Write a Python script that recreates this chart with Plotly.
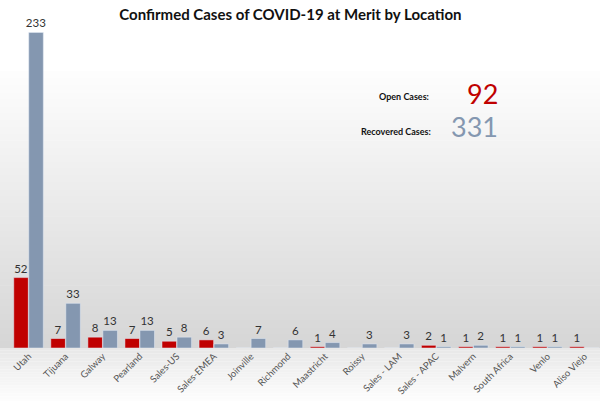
import plotly.graph_objects as go

locations = ["Utah", "Tijuana", "Galway", "Pearland", "Sales-US", "Sales-EMEA",
             "Joinville", "Richmond", "Maastricht", "Roissy", "Sales - LAM",
             "Sales - APAC", "Malvern", "South Africa", "Venlo", "Aliso Viejo"]
open_cases = [52, 7, 8, 7, 5, 6, 0, 0, 1, 0, 0, 2, 1, 1, 1, 1]
recovered_cases = [233, 33, 13, 13, 8, 3, 7, 6, 4, 3, 3, 1, 2, 1, 1, 0]

RED = "#C00000"
BLUE = "#8497B0"

def lbl(vals):
    return [str(v) if v > 0 else "" for v in vals]

fig = go.Figure()
fig.add_trace(go.Bar(x=locations, y=open_cases, name="Open", marker_color=RED,
                     text=lbl(open_cases), textposition="outside",
                     textfont=dict(size=11.5, color="#333333", family="Lato"),
                     constraintext="none", cliponaxis=False))
fig.add_trace(go.Bar(x=locations, y=recovered_cases, name="Recovered", marker_color=BLUE,
                     text=lbl(recovered_cases), textposition="outside",
                     textfont=dict(size=11.5, color="#333333", family="Lato"),
                     constraintext="none", cliponaxis=False))

# gradient background stripes
shapes = []
N = 40
top = 0.85
for i in range(N):
    y0 = top * i / N
    y1 = top * (i + 1) / N
    t = i / N
    g = int(214 + (255 - 214) * t)
    shapes.append(dict(type="rect", xref="paper", yref="paper", x0=-0.02, x1=1.02,
                       y0=y0, y1=y1 + 0.002, fillcolor=f"rgb({g},{g},{g})",
                       line=dict(width=0), layer="below"))
M = 20
bot = -0.165
for i in range(M):
    y0 = bot * i / M
    y1 = bot * (i + 1) / M
    t = i / M
    g = int(232 + (255 - 232) * t)
    shapes.append(dict(type="rect", xref="paper", yref="paper", x0=-0.02, x1=1.02,
                       y0=y1, y1=y0, fillcolor=f"rgb({g},{g},{g})",
                       line=dict(width=0), layer="below"))

fig.update_layout(
    width=600, height=401,
    margin=dict(l=10, r=0, t=23, b=53),
    paper_bgcolor="white",
    plot_bgcolor="rgba(0,0,0,0)",
    barmode="group",
    bargap=0.19,
    bargroupgap=0.03,
    showlegend=False,
    shapes=shapes,
    title=dict(text="<b>Confirmed Cases of COVID-19 at Merit by Location</b>",
               x=0.484, xanchor="center", y=0.962, yanchor="middle",
               font=dict(family="Lato", size=15, color="#111111")),
    xaxis=dict(showgrid=False, showline=False, zeroline=False, ticks="",
               tickangle=-45, tickfont=dict(family="Lato", size=9.5, color="#555555"),
               range=[-0.5, 15.42]),
    yaxis=dict(visible=False, range=[0, 240]),
)

fig.add_annotation(text="<b>Open Cases:</b>", xref="paper", yref="paper",
                   x=(431 - 10) / 590, y=(348 - 97) / 325, xanchor="right", yanchor="middle",
                   showarrow=False, font=dict(family="Lato", size=9, color="#111111"))
fig.add_annotation(text="92", xref="paper", yref="paper",
                   x=(500 - 10) / 590, y=(348 - 93) / 325, xanchor="right", yanchor="middle",
                   showarrow=False, font=dict(family="Lato", size=27, color=RED))
fig.add_annotation(text="<b>Recovered Cases:</b>", xref="paper", yref="paper",
                   x=(433 - 10) / 590, y=(348 - 131) / 325, xanchor="right", yanchor="middle",
                   showarrow=False, font=dict(family="Lato", size=9, color="#111111"))
fig.add_annotation(text="331", xref="paper", yref="paper",
                   x=(500 - 10) / 590, y=(348 - 126) / 325, xanchor="right", yanchor="middle",
                   showarrow=False, font=dict(family="Lato", size=27, color=BLUE))

fig.write_html("out.html")
